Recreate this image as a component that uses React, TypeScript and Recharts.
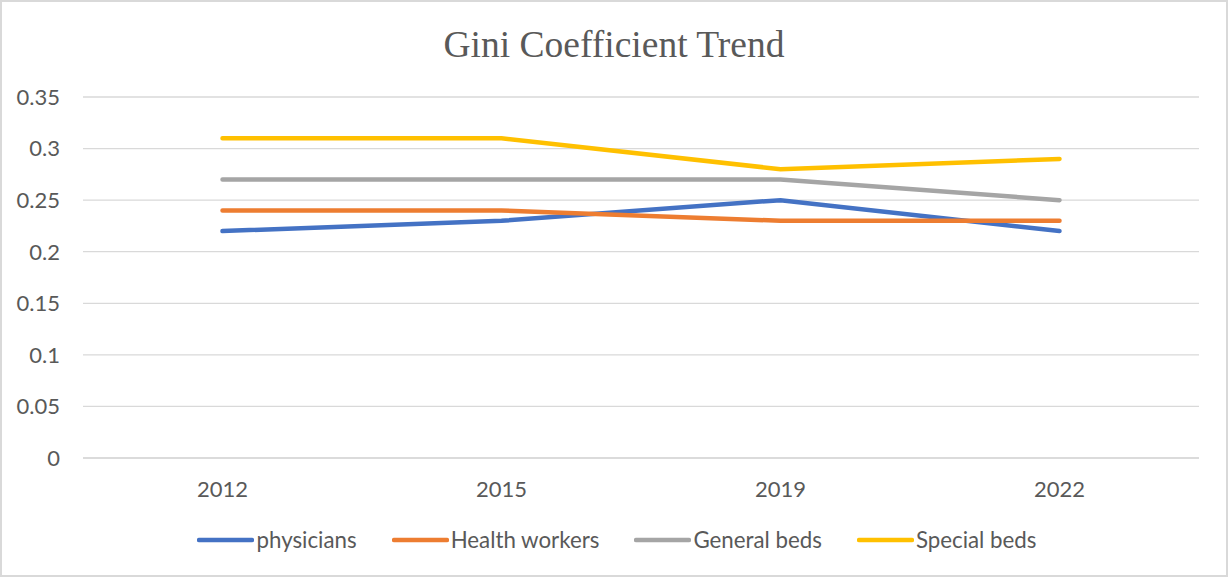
import { LineChart, Line, XAxis, YAxis, CartesianGrid, Legend } from 'recharts';

const years = ['2012', '2015', '2019', '2022'];
const physicians = [0.22, 0.23, 0.25, 0.22];
const healthWorkers = [0.24, 0.24, 0.23, 0.23];
const generalBeds = [0.27, 0.27, 0.27, 0.25];
const specialBeds = [0.31, 0.31, 0.28, 0.29];
const yTicks = [0, 0.05, 0.1, 0.15, 0.2, 0.25, 0.3, 0.35];

const seriesList = [
  { key: 'physicians', name: 'physicians', color: '#4472C4' },
  { key: 'healthWorkers', name: 'Health workers', color: '#ED7D31' },
  { key: 'generalBeds', name: 'General beds', color: '#A5A5A5' },
  { key: 'specialBeds', name: 'Special beds', color: '#FFC000' },
];

const data = years.map((year, i) => ({
  year,
  physicians: physicians[i],
  healthWorkers: healthWorkers[i],
  generalBeds: generalBeds[i],
  specialBeds: specialBeds[i],
}));

const FONT = 'Lato, "Noto Sans", sans-serif';

function LegendContent() {
  return (
    <div style={{ display: 'flex', justifyContent: 'center', alignItems: 'center', gap: 35, paddingLeft: 6 }}>
      {seriesList.map((s) => (
        <div key={s.key} style={{ display: 'flex', alignItems: 'center' }}>
          <svg width={57} height={10}>
            <line x1={2} y1={5} x2={55} y2={5} stroke={s.color} strokeWidth={4.5} strokeLinecap="round" />
          </svg>
          <span style={{ fontFamily: FONT, fontSize: 22.3, color: '#595959', marginLeft: 2 }}>{s.name}</span>
        </div>
      ))}
    </div>
  );
}

export default function App() {
  return (
    <div
      style={{
        position: 'absolute',
        top: 0,
        left: 0,
        width: 1228,
        height: 577,
        boxSizing: 'border-box',
        border: '2px solid #d9d9d9',
        background: '#fff',
      }}
    >
      <div
        style={{
          position: 'absolute',
          top: 21,
          left: 0,
          width: 1224,
          textAlign: 'center',
          fontFamily: '"Liberation Serif", "Times New Roman", serif',
          fontSize: 37.5,
          color: '#595959',
          lineHeight: '44px',
        }}
      >
        Gini Coefficient Trend
      </div>
      <LineChart
        width={1224}
        height={573}
        data={data}
        margin={{ top: 95, right: 27, left: 0, bottom: 50 }}
      >
        <CartesianGrid vertical={false} stroke="#d9d9d9" strokeWidth={1.3} />
        <XAxis
          dataKey="year"
          height={40}
          padding={{ left: 139.5, right: 139.5 }}
          tickSize={0}
          tickMargin={23}
          axisLine={{ stroke: '#d9d9d9', strokeWidth: 1.3 }}
          tick={{ fill: '#595959', fontSize: 22, fontFamily: FONT }}
        />
        <YAxis
          width={81}
          domain={[0, 0.35]}
          ticks={yTicks}
          tickSize={0}
          tickMargin={23}
          axisLine={false}
          tick={{ fill: '#595959', fontSize: 22, fontFamily: FONT }}
        />
        <Legend
          verticalAlign="bottom"
          content={<LegendContent />}
          wrapperStyle={{ top: 524, left: 0, width: 1224 }}
        />
        {seriesList.map((s) => (
          <Line
            key={s.key}
            type="linear"
            dataKey={s.key}
            name={s.name}
            stroke={s.color}
            strokeWidth={4.5}
            strokeLinecap="round"
            dot={false}
            activeDot={false}
            isAnimationActive={false}
          />
        ))}
      </LineChart>
    </div>
  );
}
